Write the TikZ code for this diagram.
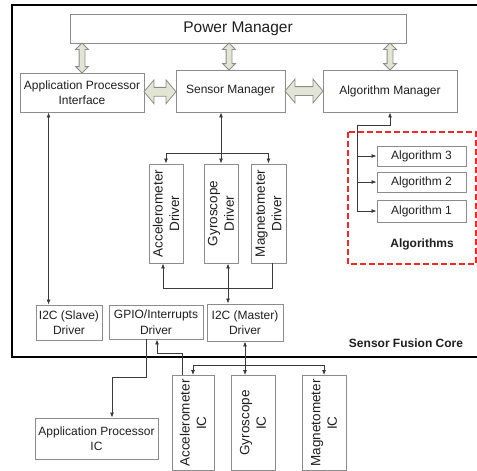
\documentclass[tikz,border=0pt]{standalone}
\usepackage{fontspec}
\setmainfont{Liberation Sans}
\usetikzlibrary{arrows.meta,shapes.arrows,calc}
\definecolor{boxgray}{HTML}{8C8C8C}
\definecolor{lnk}{HTML}{3A3A3A}
\definecolor{txt}{HTML}{1E1E1E}
\definecolor{hfill}{HTML}{E2E5D3}
\definecolor{dashred}{HTML}{F02828}
\begin{document}
\begin{tikzpicture}[x=1pt,y=-1pt,
  box/.style={draw=boxgray,line width=0.9pt,rectangle,inner sep=1pt,align=center,
    text=txt,font=\fontsize{12}{15.5}\selectfont},
  vbox/.style={box,rotate=90,font=\fontsize{13.5}{16.5}\selectfont},
  conn/.style={draw=lnk,line width=0.8pt},
  tipend/.style={-{Latex[length=5pt,width=4pt]}},
  tipstart/.style={{Latex[length=5pt,width=4pt]}-},
  tipboth/.style={{Latex[length=5pt,width=4pt]}-{Latex[length=5pt,width=4pt]}},
  hollowh/.style={double arrow,draw=boxgray,fill=hfill,line width=0.8pt,
    inner xsep=0pt,inner ysep=4pt,double arrow head extend=7.5pt,
    double arrow tip angle=100},
  hollowv/.style={double arrow,draw=boxgray,fill=hfill,line width=0.8pt,
    inner xsep=0pt,inner ysep=2.5pt,double arrow head extend=3.5pt,
    double arrow tip angle=90,rotate=90},
  lbl/.style={font=\bfseries\fontsize{12}{14}\selectfont,text=txt,inner sep=0pt}
]
\useasboundingbox (0,0) rectangle (477,471);

% Sensor Fusion Core frame (open to the right)
\draw[line width=2pt,black] (477,5) -- (12,5) -- (12,357) -- (477,357);

% managers
\node[box,minimum width=336pt,minimum height=29pt,font=\fontsize{15.5}{18}\selectfont] (pm) at (238,28.5) {Power Manager};
\node[box,minimum width=124pt,minimum height=39pt] (api) at (82,92.5) {Application Processor\\Interface};
\node[box,minimum width=109pt,minimum height=42pt] (sm) at (230.5,91) {Sensor Manager};
\node[box,minimum width=134pt,minimum height=42pt] (am) at (390,91) {Algorithm Manager};

% hollow two-way arrows
\node[hollowh,minimum height=32pt] (h1) at ($(api.east)!0.5!(sm.west)$) {};
\node[hollowh,minimum height=38pt] (h2) at ($(sm.east)!0.5!(am.west)$) {};
\node[hollowv,minimum height=30pt] (v1) at ($(pm.south -| api.north)!0.5!(api.north)$) {};
\node[hollowv,minimum height=27pt] (v2) at ($(pm.south -| 229,0)!0.5!(sm.north -| 229,0)$) {};
\node[hollowv,minimum height=27pt] (v3) at ($(pm.south -| am.north)!0.5!(am.north)$) {};

% algorithms group
\draw[dashred,line width=1.1pt,dash pattern=on 6pt off 3pt] (348,132) rectangle (476,264);
\node[box,minimum width=89pt,minimum height=20pt] (alg3) at (421.5,156) {Algorithm 3};
\node[box,minimum width=89pt,minimum height=20pt] (alg2) at (421.5,182) {Algorithm 2};
\node[box,minimum width=89pt,minimum height=22pt] (alg1) at (421.5,211) {Algorithm 1};
\node[lbl] (algs) at (422,244) {Algorithms};

\coordinate (aj) at (357,125);
\draw[conn,tipboth] (am.south) -- (am.south |- aj) -- (aj) -- (aj |- alg1.west) -- (alg1.west);
\draw[conn,tipend] (aj |- alg3.west) -- (alg3.west);
\draw[conn,tipend] (aj |- alg2.west) -- (alg2.west);

% sensor drivers
\node[vbox,minimum width=99pt,minimum height=34pt] (accd) at (166,213.5) {Accelerometer\\Driver};
\node[vbox,minimum width=99pt,minimum height=34pt] (gyrd) at (221,213.5) {Gyroscope\\Driver};
\node[vbox,minimum width=99pt,minimum height=35pt] (magd) at (268.5,213.5) {Magnetometer\\Driver};

\coordinate (tb) at (221,153);
\draw[conn,tipboth] (sm.south -| gyrd.east) -- (gyrd.east);
\draw[conn,tipend] (tb -| accd.east) -- (accd.east);
\draw[conn] (tb -| accd.east) -- (tb -| magd.east);
\draw[conn,tipend] (tb -| magd.east) -- (magd.east);

% bus drivers
\node[box,minimum width=66pt,minimum height=35pt] (i2cs) at (69,322.5) {I2C (Slave)\\Driver};
\node[box,minimum width=94pt,minimum height=34pt] (gpio) at (156,322) {GPIO/Interrupts\\Driver};
\node[box,minimum width=76pt,minimum height=37pt] (i2cm) at (245,322.5) {I2C (Master)\\Driver};
\node[lbl] (sfc) at (406,343) {Sensor Fusion Core};

\coordinate (bb) at (228,288);
\coordinate (accb) at ($(accd.west)+(-3,0)$);
\coordinate (magb) at ($(magd.west)+(4,0)$);
\draw[conn,tipboth] (gyrd.west -| bb) -- (i2cm.north -| bb);
\draw[conn,tipstart] (accb) -- (accb |- bb) -- (magb |- bb) -- (magb);

\coordinate (sl) at ($(i2cs.north west)+(13,0)$);
\draw[conn,tipboth] (sl |- api.south) -- (sl);

% external devices
\node[box,minimum width=123pt,minimum height=41pt] (apic) at (96.5,438.5) {Application Processor\\IC};
\node[vbox,minimum width=95pt,minimum height=42pt] (acic) at (193,423) {Accelerometer\\IC};
\node[vbox,minimum width=95pt,minimum height=44pt] (gyic) at (253,423) {Gyroscope\\IC};
\node[vbox,minimum width=95pt,minimum height=44pt] (mgic) at (324,423) {Magnetometer\\IC};

\coordinate (eb) at (245,365);
\draw[conn,tipboth] (i2cm.south) -- (i2cm.south |- acic.east);
\draw[conn,tipend] (eb -| acic.east) -- (acic.east);
\draw[conn] (eb -| acic.east) -- (eb -| mgic.east);
\draw[conn,tipend] (eb -| mgic.east) -- (mgic.east);

% interrupt lines
\coordinate (ga) at (146,377);
\coordinate (gb) at (112,377);
\draw[conn,tipend] (gpio.south -| ga) -- (ga) -- (gb) -- (apic.north -| gb);
\coordinate (ia) at (182,353);
\coordinate (ib) at (157,353);
\draw[conn,tipend] (acic.east -| ia) -- (ia) -- (ib) -- (gpio.south -| ib);
\end{tikzpicture}
\end{document}
